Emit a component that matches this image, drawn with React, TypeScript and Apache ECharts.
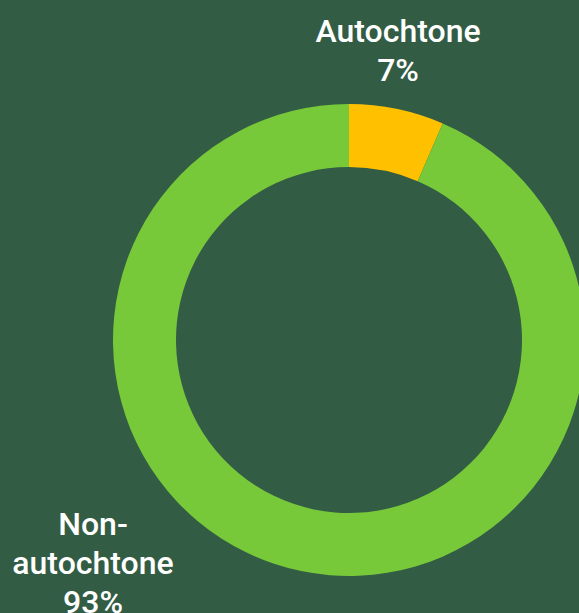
import React, { useEffect, useRef } from "react";
import * as echarts from "echarts";

const categories = ["Autochtone", "Non-\nautochtone"];
const values = [6.5, 93.5];
const colors = ["#ffc000", "#77c93a"];
const labelPositions = [
  [398, 50],
  [93, 563],
];

export default function App() {
  const ref = useRef<HTMLDivElement>(null);
  useEffect(() => {
    document.body.style.margin = "0";
    document.body.style.background = "#335c45";
    const chart = echarts.init(ref.current!, null, { renderer: "svg" });
    chart.setOption({
      animation: false,
      backgroundColor: "#335c45",
      series: [
        {
          type: "pie",
          center: [349, 340],
          radius: [173, 236],
          startAngle: 90,
          clockwise: true,
          silent: true,
          percentPrecision: 0,
          label: {
            show: true,
            formatter: "{b}\n{d}%",
            color: "#ffffff",
            fontFamily: "Roboto",
            fontSize: 32,
            fontWeight: 500,
            lineHeight: 39,
            align: "center",
            overflow: "none",
            width: 300,
          },
          labelLine: { show: false },
          labelLayout: (params: any) => {
            const p = labelPositions[params.dataIndex];
            return { x: p[0], y: p[1], align: "center", verticalAlign: "middle" };
          },
          itemStyle: { borderWidth: 0 },
          data: categories.map((c, i) => ({
            name: c,
            value: values[i],
            itemStyle: { color: colors[i] },
          })),
        },
      ],
    });
    return () => chart.dispose();
  }, []);
  return <div ref={ref} style={{ width: 579, height: 613 }} />;
}
